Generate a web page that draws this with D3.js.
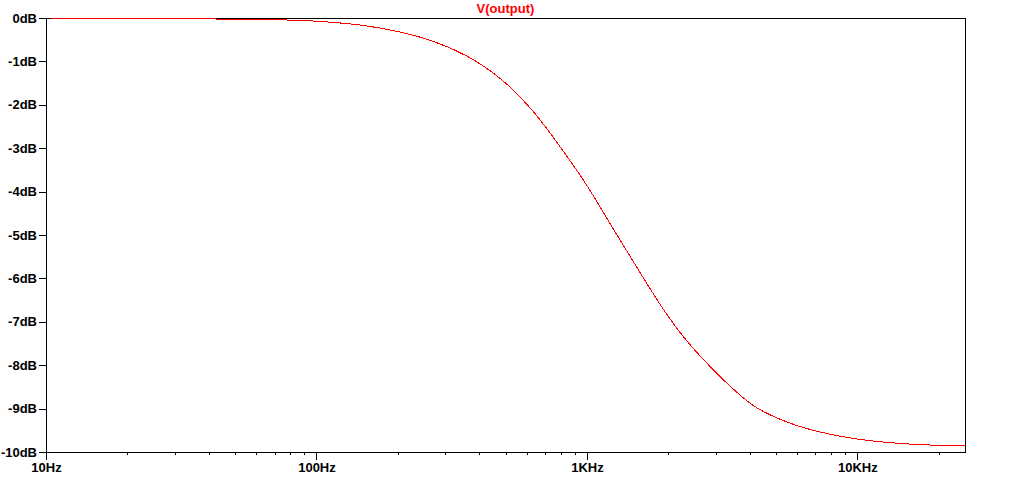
<!DOCTYPE html>
<html>
<head>
<meta charset="utf-8">
<script src="https://cdn.jsdelivr.net/npm/d3@7"></script>
<style>
  body { margin: 0; background: #fff; }
  .chart text { font-family: "Liberation Sans", Arial, sans-serif; font-weight: bold; font-size: 13px; fill: #000; }
  .chart .domain, .chart .tick line { stroke: #000; shape-rendering: crispEdges; }
  .title { fill: #ff0000 !important; }
</style>
</head>
<body>
<svg class="chart"></svg>
<script>
const WIDTH = 1020;
const HEIGHT = 478;

const freqHz = [10, 20, 39, 68, 88, 106, 150, 204, 271, 360, 478, 636, 820, 946, 1090,
                1256, 1448, 1766, 2036, 2346, 2704, 3117, 3889, 4380, 5652, 7510, 9980,
                13250, 17610, 25000];
const gainDb = [0, -0.005, -0.02, -0.035, -0.055, -0.08, -0.16, -0.31, -0.52, -0.85, -1.35, -2.12,
                -3.08, -3.62, -4.23, -4.88, -5.5, -6.38, -6.96, -7.46, -7.88, -8.28, -8.83,
                -9.05, -9.36, -9.57, -9.71, -9.79, -9.84, -9.86];

const xMajor = [10, 100, 1000, 10000];
const xMajorLabels = ["10Hz", "100Hz", "1KHz", "10KHz"];
const xMinor = [20, 30, 40, 50, 60, 70, 80, 90,
                200, 300, 400, 500, 600, 700, 800, 900,
                2000, 3000, 4000, 5000, 6000, 7000, 8000, 9000,
                20000];
const yTicks = [0, -1, -2, -3, -4, -5, -6, -7, -8, -9, -10];
const yTickLabels = ["0dB", "-1dB", "-2dB", "-3dB", "-4dB", "-5dB", "-6dB", "-7dB", "-8dB", "-9dB", "-10dB"];

const LEFT = 46, RIGHT = 965, TOP = 18, BOTTOM = 452;

let svg = d3.select(".chart").attr("width", WIDTH).attr("height", HEIGHT);

let x = d3.scaleLog().domain([10, 25000]).range([LEFT, RIGHT]);
let y = d3.scaleLinear().domain([0, -10]).range([TOP, BOTTOM]);

// minor ticks first so major axis sits on top
svg.append("g")
   .attr("transform", `translate(0,${BOTTOM})`)
   .call(d3.axisBottom(x).tickValues(xMinor).tickFormat("").tickSize(3).tickSizeOuter(0));

svg.append("g")
   .attr("transform", `translate(0,${BOTTOM})`)
   .call(d3.axisBottom(x).tickValues(xMajor)
           .tickFormat((d, i) => xMajorLabels[i])
           .tickSize(8).tickPadding(3).tickSizeOuter(0));

svg.append("g")
   .attr("transform", `translate(${LEFT},0)`)
   .call(d3.axisLeft(y).tickValues(yTicks)
           .tickFormat((d, i) => yTickLabels[i])
           .tickSize(7).tickPadding(2).tickSizeOuter(0));

// top and right side of the frame
svg.append("path")
   .attr("d", `M${LEFT},${TOP + 0.5}H${RIGHT + 0.5}V${BOTTOM}`)
   .attr("fill", "none")
   .attr("stroke", "#000")
   .attr("shape-rendering", "crispEdges");

svg.append("text")
   .attr("class", "title")
   .attr("x", (LEFT + RIGHT) / 2)
   .attr("y", 13)
   .attr("text-anchor", "middle")
   .text("V(output)");

let line = d3.line()
             .x((d, i) => x(d))
             .y((d, i) => y(gainDb[i]))
             .curve(d3.curveBasis);

svg.append("path")
   .attr("d", line(freqHz))
   .attr("fill", "none")
   .attr("stroke", "#ff0000")
   .attr("stroke-width", 1)
   .attr("shape-rendering", "crispEdges");
</script>
</body>
</html>
